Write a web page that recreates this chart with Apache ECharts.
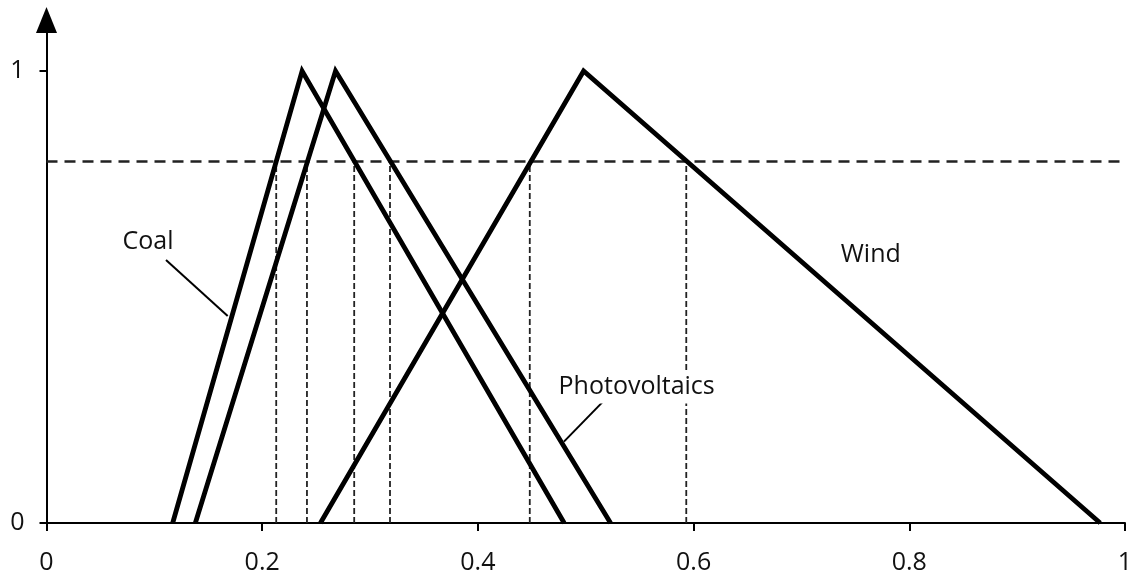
<!DOCTYPE html>
<html>
<head>
<meta charset="utf-8">
<script src="https://cdn.jsdelivr.net/npm/echarts@6/dist/echarts.min.js"></script>
<style>
html,body{margin:0;padding:0;background:#fff;}
#chart{width:1133px;height:576px;}
</style>
</head>
<body>
<div id="chart"></div>
<script>
// Tick values
const xTicks = [0, 0.2, 0.4, 0.6, 0.8, 1];
const yTicks = [0, 1];

// Triangular membership functions: [start, peak, end]
const coal = [0.117, 0.237, 0.48];
const photovoltaics = [0.138, 0.268, 0.523];
const wind = [0.254, 0.498, 0.977];

// Alpha-cut level and the x positions where it meets the triangles
const alphaLevel = 0.8;
const cutPoints = [0.213, 0.2415, 0.2853, 0.3185, 0.4481, 0.5932];

// Series name labels and their callout lines
const labelNames = ['Coal', 'Photovoltaics', 'Wind'];
const labelX = [0.0941, 0.5472, 0.7643];
const labelY = [0.6217, 0.3009, 0.593];
const coalCallout = [[0.1108, 0.582], [0.168, 0.458]];
const pvCallout = [[0.5153, 0.267], [0.4798, 0.18]];

const FONT = '"Open Sans", "Noto Sans", sans-serif';
const TEXT = '#111';

function tri(t) { return [[t[0], 0], [t[1], 1], [t[2], 0]]; }

const series = [];
[coal, photovoltaics, wind].forEach(function (t) {
  series.push({
    type: 'line', data: tri(t), symbol: 'none', silent: true,
    lineStyle: { color: '#000', width: 4.8, join: 'miter' }, z: 5
  });
});
series.push({
  type: 'line', data: [[0, alphaLevel], [1, alphaLevel]], symbol: 'none', silent: true,
  lineStyle: { color: '#222', width: 2.4, type: [11, 7] }, z: 3
});
cutPoints.forEach(function (c) {
  series.push({
    type: 'line', data: [[c, 0], [c, alphaLevel]], symbol: 'none', silent: true,
    lineStyle: { color: '#222', width: 1.8, type: [6, 3] }, z: 3
  });
});
[coalCallout, pvCallout].forEach(function (d) {
  series.push({
    type: 'line', data: d, symbol: 'none', silent: true,
    lineStyle: { color: '#000', width: 2 }, z: 4
  });
});
series.push({
  type: 'scatter', silent: true, symbolSize: 1,
  itemStyle: { color: '#fff', opacity: 1 },
  data: labelNames.map(function (n, i) { return { name: n, value: [labelX[i], labelY[i]] }; }),
  label: {
    show: true, position: 'inside', formatter: '{b}', opacity: 1,
    fontFamily: FONT, fontSize: 25, color: TEXT, textBorderWidth: 0,
    backgroundColor: '#fff', padding: [4, 2]
  },
  z: 6
});

const chart = echarts.init(document.getElementById('chart'), null, { renderer: 'canvas' });
chart.setOption({
  animation: false,
  backgroundColor: '#fff',
  grid: { left: 46.5, right: 8, top: 20, bottom: 53, containLabel: false, outerBoundsMode: 'none' },
  xAxis: {
    type: 'value', min: 0, max: 1, interval: 0.2,
    axisLine: { show: true, lineStyle: { color: '#000', width: 2 } },
    axisTick: { show: true, length: 8, customValues: xTicks, lineStyle: { color: '#000', width: 2 } },
    axisLabel: {
      show: true, customValues: xTicks, margin: 27,
      fontFamily: FONT, fontSize: 25, color: TEXT,
      formatter: function (v) { return String(+v.toFixed(1)); }
    },
    splitLine: { show: false }
  },
  yAxis: {
    type: 'value', min: 0, max: 1.113,
    axisLine: { show: true, symbol: ['none', 'triangle'], symbolSize: [21, 26], symbolOffset: [0, 0], lineStyle: { color: '#000', width: 2 } },
    axisTick: { show: true, length: 7, customValues: yTicks, lineStyle: { color: '#000', width: 2 } },
    axisLabel: {
      show: true, customValues: yTicks, margin: 22,
      fontFamily: FONT, fontSize: 25, color: TEXT,
      formatter: function (v) { return String(v); }
    },
    splitLine: { show: false }
  },
  series: series
});
</script>
</body>
</html>
